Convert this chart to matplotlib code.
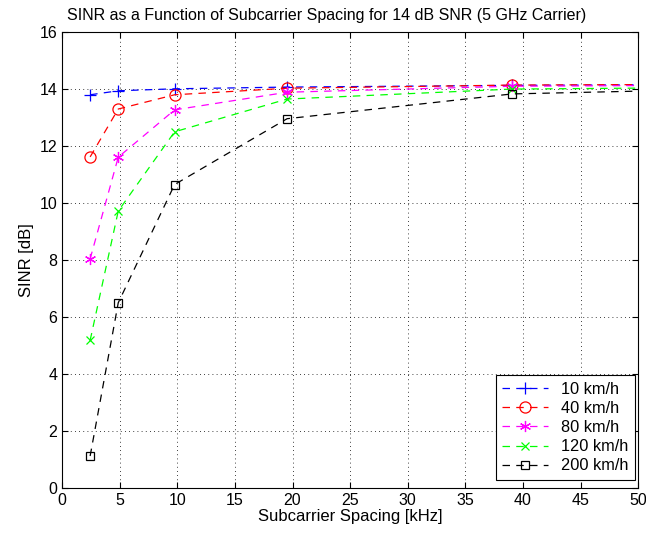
import numpy as np
import matplotlib
matplotlib.use('Agg')
import matplotlib.pyplot as plt

plt.rcParams['font.family'] = ['Liberation Sans', 'DejaVu Sans']

# subcarrier spacing [kHz]
spacing = [2.44, 4.88, 9.77, 19.53, 39.06, 78.13]

labels = ["10 km/h", "40 km/h", "80 km/h", "120 km/h", "200 km/h"]
sinr_10 = [13.80, 13.94, 14.01, 14.07, 14.13, 14.20]
sinr_40 = [11.62, 13.30, 13.80, 14.03, 14.14, 14.20]
sinr_80 = [8.04, 11.61, 13.27, 13.89, 14.10, 14.18]
sinr_120 = [5.18, 9.72, 12.50, 13.65, 14.00, 14.12]
sinr_200 = [1.12, 6.50, 10.65, 12.96, 13.83, 14.18]

series = [sinr_10, sinr_40, sinr_80, sinr_120, sinr_200]
colors = ["#0000ff", "#ff0000", "#ff00ff", "#00ff00", "#000000"]
# MATLAB-like markers: plus, circle, asterisk, cross, square
markers = ["+", "o", (6, 2, 0), "x", "s"]
msizes = [9, 8, 8, 6, 6]

fig = plt.figure(figsize=(6.46, 5.35), dpi=100)
ax = fig.add_axes([0.096, 0.088, 0.892, 0.852])

for vals, c, m, ms, lab in zip(series, colors, markers, msizes, labels):
    ax.plot(spacing, vals, color=c, linestyle=(0, (6, 5)), linewidth=0.9,
            marker=m, markersize=ms,
            markerfacecolor="none", markeredgecolor=c, markeredgewidth=0.9,
            label=lab)

ax.set_xlim(0, 50)
ax.set_ylim(0, 16)
ax.set_xticks(np.arange(0, 51, 5))
ax.set_yticks(np.arange(0, 17, 2))
ax.grid(True, color="black", linestyle=(0, (1, 4)), linewidth=0.6)
ax.tick_params(direction="in", top=True, right=True, labelsize=11.5, length=4)

ax.set_xlabel("Subcarrier Spacing [kHz]", fontsize=12, labelpad=1)
ax.set_ylabel("SINR [dB]", fontsize=12)
fig.text(0.505, 0.962, "SINR as a Function of Subcarrier Spacing for 14 dB SNR (5 GHz Carrier)",
         fontsize=11.5, ha="center", va="baseline")

leg = ax.legend(loc="lower right", bbox_to_anchor=(0.995, 0.0175),
                fontsize=11.8, handlelength=2.8,
                fancybox=False, framealpha=1, edgecolor="black",
                borderaxespad=0, labelspacing=0.25)
leg.get_frame().set_linewidth(0.8)

plt.savefig("out.png", dpi=100, facecolor="white")
plt.close()
